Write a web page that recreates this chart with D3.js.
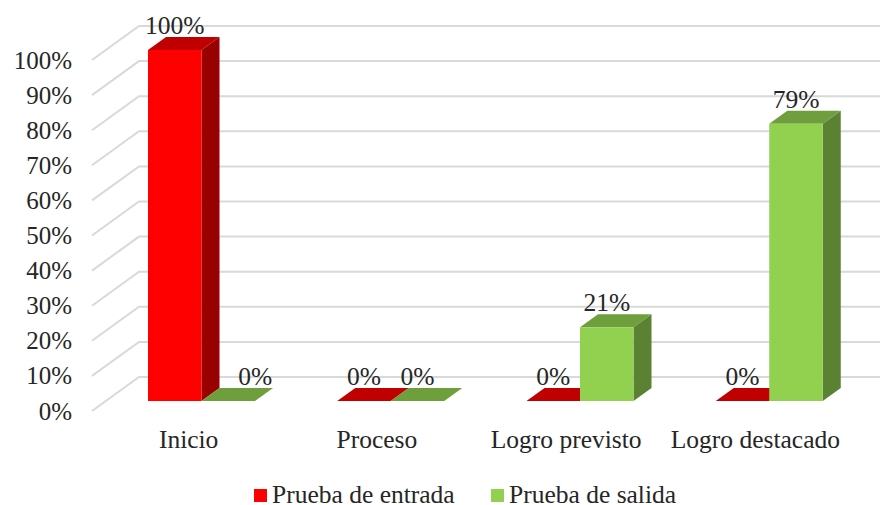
<!DOCTYPE html>
<meta charset="utf-8">
<style>
  html, body { margin: 0; background: #fff; }
  text { font-family: "Liberation Serif", serif; fill: #262626; }
</style>
<script src="https://d3js.org/d3.v7.min.js"></script>
<div id="chart"></div>
<script>
    const categories = ["Inicio", "Proceso", "Logro previsto", "Logro destacado"];
    const entrada = [100, 0, 0, 0];
    const salida = [0, 0, 21, 79];
    const seriesNames = ["Prueba de entrada", "Prueba de salida"];
    const yTicks = [0, 10, 20, 30, 40, 50, 60, 70, 80, 90, 100];

    const width = 883, height = 505;
    const depth = {x: 18, y: -13};      // bar depth
    const wall = {x: 47, y: -34};       // floor depth, axis to back wall

    const svg = d3.select("#chart")
                .append("svg")
                .attr("width", width)
                .attr("height", height)
                .style("display", "block");

    const x = d3.scaleBand()
                .domain(categories)
                .range([107, 864]);

    // two bars side by side, centered in each band
    const xInner = d3.scaleBand()
                .domain(seriesNames)
                .range([41, 148]);

    const y = d3.scaleLinear()
                .domain([0, 100])
                .range([401, 50]);

    // Gridlines: diagonal on the side wall, then flat along the back wall
    svg.append("g")
        .selectAll("path")
        .data(yTicks)
        .join("path")
            .attr("fill", "none")
            .attr("stroke", "#d9d9d9")
            .attr("stroke-width", 2)
            .attr("d", d => `M92,${y(d) + 10}L${92 + wall.x},${y(d) + 10 + wall.y}H880`);

    // Y axis labels
    const yAxis = svg.append("g")
        .attr("transform", "translate(80, 10)")
        .call(d3.axisLeft(y).tickValues(yTicks).tickFormat(d => d + "%").tickSize(0).tickPadding(8));
    yAxis.select(".domain").remove();
    yAxis.selectAll("text").style("font-size", "25px").attr("font-family", null);

    // X axis labels
    const xAxis = svg.append("g")
        .attr("transform", "translate(-14, 430)")
        .call(d3.axisBottom(x).tickSize(0).tickPadding(0));
    xAxis.select(".domain").remove();
    xAxis.selectAll("text").style("font-size", "25.5px").attr("font-family", null);
    xAxis.selectAll(".tick").filter(d => d === "Inicio").select("text").attr("dx", 1);

    const colors = [
        {front: "#ff0000", top: "#c00000", side: "#990000"},
        {front: "#92d050", top: "#6f9e3c", side: "#5b8232"}
    ];

    function drawBar(cat, name, value, c) {
        const x0 = x(cat) + xInner(name);
        const x1 = x0 + xInner.bandwidth();
        const y0 = y(0), y1 = y(value);
        const g = svg.append("g");
        g.append("path").attr("fill", c.side)
            .attr("d", `M${x1},${y1}l${depth.x},${depth.y}V${y0 + depth.y}L${x1},${y0}Z`);
        g.append("path").attr("fill", c.top)
            .attr("d", `M${x0},${y1}l${depth.x},${depth.y}H${x1 + depth.x}L${x1},${y1}Z`);
        g.append("rect").attr("fill", c.front)
            .attr("x", x0).attr("y", y1)
            .attr("width", x1 - x0).attr("height", y0 - y1);
    }

    categories.forEach((cat, i) => {
        drawBar(cat, seriesNames[0], entrada[i], colors[0]);
        drawBar(cat, seriesNames[1], salida[i], colors[1]);
    });

    // Data labels, the one next to the tall bar is pushed to the right
    function drawLabel(cat, name, value) {
        let lx = x(cat) + xInner(name) + xInner.bandwidth() / 2;
        if (cat === "Inicio" && name === seriesNames[1]) lx += 27;
        svg.append("text")
            .attr("x", lx)
            .attr("y", y(value) - 16)
            .attr("text-anchor", "middle")
            .style("font-size", "25.5px")
            .text(value + "%");
    }

    categories.forEach((cat, i) => {
        drawLabel(cat, seriesNames[0], entrada[i]);
        drawLabel(cat, seriesNames[1], salida[i]);
    });

    // Legend
    const legend = svg.append("g")
        .selectAll("g")
        .data(seriesNames)
        .join("g")
            .attr("transform", (d, i) => `translate(${[254, 491][i]}, 489)`);
    legend.append("rect")
        .attr("width", 13).attr("height", 13)
        .attr("fill", (d, i) => colors[i].front);
    legend.append("text")
        .attr("x", 18).attr("y", 14)
        .style("font-size", "25.5px")
        .text(d => d);
</script>
